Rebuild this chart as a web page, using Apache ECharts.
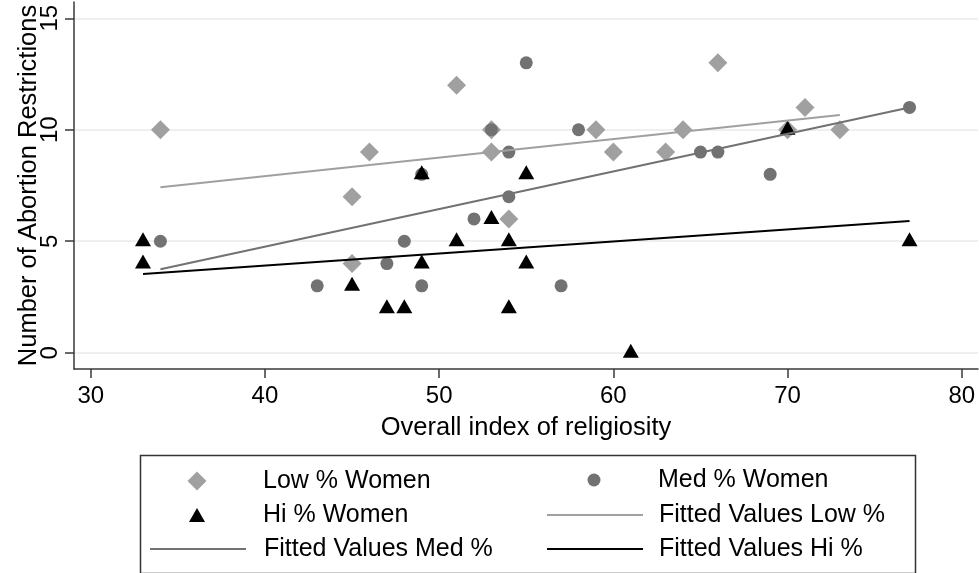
<!DOCTYPE html>
<html>
<head>
<meta charset="utf-8">
<script src="https://cdn.jsdelivr.net/npm/echarts@6/dist/echarts.min.js"></script>
<style>
html,body{margin:0;padding:0;background:#fff;}
#chart{width:979px;height:573px;}
</style>
</head>
<body>
<div id="chart"></div>
<script>
// ---- data ----
const lowX = [34, 51, 53, 59, 46, 53, 60, 45, 54, 45, 66, 71, 64, 70, 73, 63];
const lowY = [10, 12, 10, 10, 9, 9, 9, 7, 6, 4, 13, 11, 10, 10, 10, 9];
const medX = [34, 43, 55, 53, 58, 54, 54, 52, 48, 47, 49, 57, 77, 65, 66, 69, 49];
const medY = [5, 3, 13, 10, 10, 9, 7, 6, 5, 4, 3, 3, 11, 9, 9, 8, 8];
const hiX = [33, 33, 49, 55, 53, 51, 54, 49, 55, 45, 47, 48, 54, 61, 70, 77];
const hiY = [5, 4, 8, 8, 6, 5, 5, 4, 4, 3, 2, 2, 2, 0, 10, 5];
const fitLowX = [34, 73];
const fitLowY = [7.42, 10.66];
const fitMedX = [34, 77];
const fitMedY = [3.74, 11.0];
const fitHiX = [33, 77];
const fitHiY = [3.53, 5.91];
const xTicks = [30, 40, 50, 60, 70, 80];
const yTicks = [0, 5, 10, 15];
const seriesNames = ['Low % Women', 'Med % Women', 'Hi % Women',
  'Fitted Values Low %', 'Fitted Values Med %', 'Fitted Values Hi %'];
const xTitle = 'Overall index of religiosity';
const yTitle = 'Number of Abortion Restrictions';

const pairs = (xs, ys) => xs.map((x, i) => [x, ys[i]]);
const FONT = '"Liberation Sans", Arial, Helvetica, sans-serif';
const axisColor = '#3a3a3a';
const cLow = '#a0a0a0', cMed = '#727272', cHi = '#000000';

const chart = echarts.init(document.getElementById('chart'), null, {renderer: 'canvas'});

// iconLeft: where the 96px icon slot starts; symW: drawn symbol width (legend is
// positioned by its bounding box, so shift by the empty part of the slot)
function legendItem(name, icon, iconLeft, symW, rowCenter, h, padLeft) {
  return {
    show: true, orient: 'vertical', left: iconLeft + (96 - symW) / 2, top: rowCenter - 12.5,
    padding: 0, itemWidth: 96, itemHeight: h, selectedMode: false, symbolKeepAspect: true,
    data: [icon ? {name: name, icon: icon} : {name: name}],
    textStyle: {fontFamily: FONT, fontSize: 25, color: '#000', padding: [0, 0, 0, padLeft]}
  };
}

const option = {
  animation: false,
  backgroundColor: '#fff',
  textStyle: {fontFamily: FONT},
  grid: {left: 74, right: 1, top: 2, bottom: 204, containLabel: false, outerBoundsMode: 'none'},
  xAxis: {
    type: 'value', min: 29.04, max: 80.93,
    name: xTitle, nameLocation: 'middle', nameGap: 46, nameMoveOverlap: false,
    nameTextStyle: {fontFamily: FONT, fontSize: 25.5, color: '#000'},
    axisLine: {show: true, onZero: false, lineStyle: {color: axisColor, width: 1.5}},
    axisTick: {show: true, length: 9, customValues: xTicks, lineStyle: {color: axisColor, width: 1.5}},
    axisLabel: {show: true, customValues: xTicks, fontFamily: FONT, fontSize: 24, color: '#000', margin: 15},
    splitLine: {show: false}
  },
  yAxis: {
    type: 'value', min: -0.73, max: 15.73,
    name: yTitle, nameLocation: 'middle', nameGap: 32, nameRotate: 90, nameMoveOverlap: false,
    nameTextStyle: {fontFamily: FONT, fontSize: 25.5, color: '#000'},
    axisLine: {show: true, onZero: false, lineStyle: {color: axisColor, width: 1.5}},
    axisTick: {show: true, length: 9, customValues: yTicks, lineStyle: {color: axisColor, width: 1.5}},
    axisLabel: {show: true, customValues: yTicks, rotate: 90, fontFamily: FONT, fontSize: 24, color: '#000',
      margin: 12, verticalAlign: 'bottom'},
    splitLine: {show: true, lineStyle: {color: '#e4ecec', width: 1.5}}
  },
  legend: [
    legendItem(seriesNames[0], 'path://M0,-1L1,0L0,1L-1,0Z', 149, 19, 481, 19, 13),
    legendItem(seriesNames[2], 'path://M8,0L16,14L0,14Z', 149, 16, 515, 14, 13),
    legendItem(seriesNames[4], null, 149, 96, 549, 2, 13),
    legendItem(seriesNames[1], 'circle', 546, 13, 480, 13, 11),
    legendItem(seriesNames[3], null, 546, 96, 515, 2, 11),
    legendItem(seriesNames[5], null, 546, 96, 549, 2, 11)
  ],
  graphic: [{
    type: 'rect', left: 138, top: 453, silent: true,
    shape: {width: 775, height: 118},
    style: {fill: 'none', stroke: '#333', lineWidth: 1.5}
  }],
  series: [
    {name: seriesNames[0], type: 'scatter', data: pairs(lowX, lowY), symbol: 'diamond', symbolSize: 19,
     itemStyle: {color: cLow, opacity: 1}, silent: true},
    {name: seriesNames[1], type: 'scatter', data: pairs(medX, medY), symbol: 'circle', symbolSize: 13,
     itemStyle: {color: cMed, opacity: 1}, silent: true},
    {name: seriesNames[2], type: 'scatter', data: pairs(hiX, hiY), symbol: 'triangle', symbolSize: [16, 14],
     symbolOffset: [0, -2], itemStyle: {color: cHi, opacity: 1}, silent: true},
    {name: seriesNames[3], type: 'line', data: pairs(fitLowX, fitLowY), symbol: 'none', showSymbol: false,
     lineStyle: {color: cLow, width: 2}, itemStyle: {color: cLow}, silent: true},
    {name: seriesNames[4], type: 'line', data: pairs(fitMedX, fitMedY), symbol: 'none', showSymbol: false,
     lineStyle: {color: cMed, width: 2}, itemStyle: {color: cMed}, silent: true},
    {name: seriesNames[5], type: 'line', data: pairs(fitHiX, fitHiY), symbol: 'none', showSymbol: false,
     lineStyle: {color: cHi, width: 2}, itemStyle: {color: cHi}, silent: true}
  ]
};
chart.setOption(option);
</script>
</body>
</html>
